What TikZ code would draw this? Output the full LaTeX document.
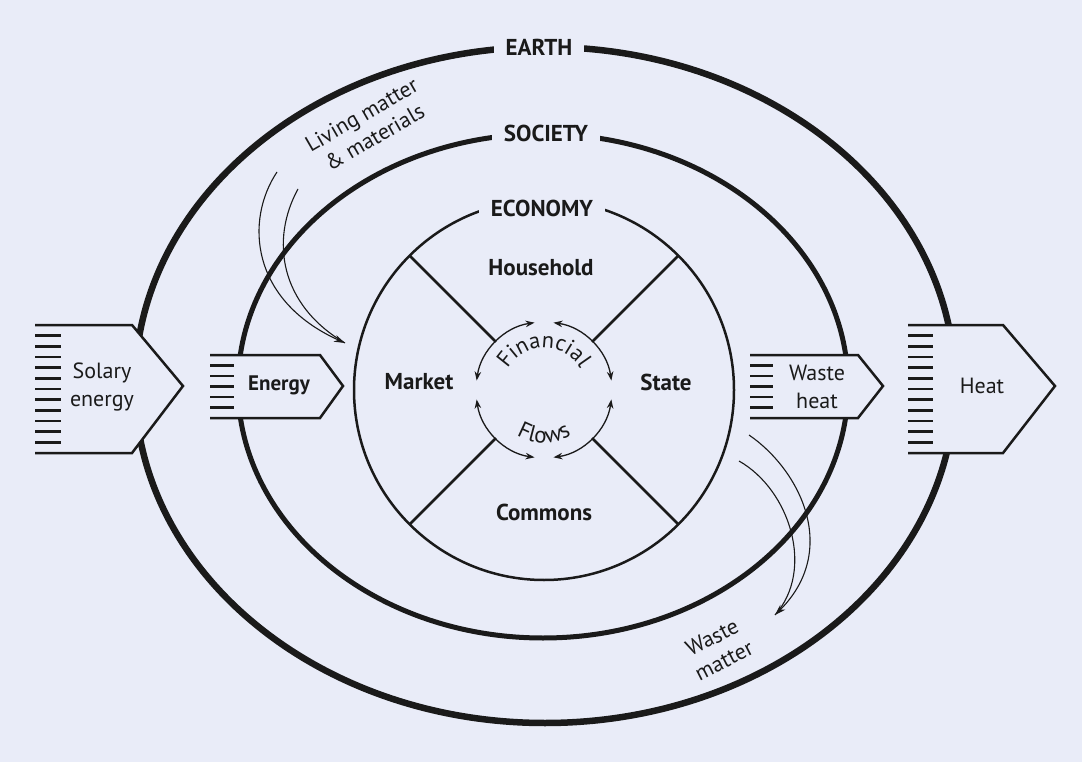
\documentclass[tikz,border=0pt]{standalone}
\usepackage{fontspec}
\setmainfont{PT Sans}
\usetikzlibrary{arrows.meta,decorations.text}
\definecolor{bg}{RGB}{233,236,248}
\definecolor{ink}{RGB}{26,26,26}
\tikzset{
  ring/.style={draw=ink, line width=#1},
  lbl/.style={fill=bg, text=ink, inner xsep=12pt, inner ysep=5pt, font=\bfseries\fontsize{23}{27}\selectfont},
  sector/.style={text=ink, font=\bfseries\fontsize{23}{27}\selectfont},
  flowtxt/.style={text=ink, align=center, font=\fontsize{22}{28}\selectfont},
  slanted/.style={text=ink, align=center, font=\fontsize{22}{26}\selectfont},
  shaft/.style={fill=bg, draw=ink, line width=2.5pt, line join=miter},
  stripe/.style={draw=ink, line width=2.6pt},
  spoke/.style={draw=ink, line width=2.5pt},
  cyc/.style={draw=ink, line width=1.3pt, {Stealth[length=9pt,width=6.5pt]}-{Stealth[length=9pt,width=6.5pt]}},
  matflow/.style={draw=ink, line width=1.1pt},
}
\begin{document}
\begin{tikzpicture}[x=1pt,y=-1pt]
\fill[bg] (0,0) rectangle (1082,762);
\useasboundingbox (0,0) rectangle (1082,762);

% rings
\draw[ring=6.5pt] (545,385) ellipse [x radius=410pt, y radius=338pt];
\draw[ring=5pt] (543,386) ellipse [x radius=305pt, y radius=252pt];
\coordinate (c) at (544,390);
\draw[ring=2.5pt] (c) circle [radius=190pt];

% spokes
\foreach \a in {45,135,225,315}
  \draw[spoke] (c) ++(\a:68pt) -- ++(\a:122pt);

% financial cycle
\foreach \s/\e in {98/172, 82/8, 188/262, 352/278}
  \draw[cyc] (c) ++(\s:68pt) arc[start angle=\s, end angle=\e, radius=68pt];
\path[decorate, decoration={text along path, text align=center,
   text={|\fontsize{22.5}{22.5}\selectfont\color{ink}|Financial}}]
   (c) ++(178:42pt) arc[start angle=178, end angle=2, radius=42pt];
\path[decorate, decoration={text along path, text align=center,
   text={|\fontsize{23}{23}\selectfont\color{ink}|Flows}}]
   (c) ++(200:53pt) arc[start angle=200, end angle=340, radius=53pt];

% ring labels
\node[lbl] (earth) at (539,47) {EARTH};
\node[lbl] (society) at (546,133) {SOCIETY};
\node[lbl] (economy) at (542,208) {ECONOMY};

% sectors
\node[sector] (household) at (541,268) {Household};
\node[sector] (market) at (419,382) {Market};
\node[sector] (state) at (666,382) {State};
\node[sector] (commons) at (544,512) {Commons};

% solar energy arrow
\filldraw[shaft] (35,325) -- (132,325) -- (183,386) -- (132,453) -- (35,453);
\foreach \i in {1,...,11}
  \draw[stripe] (35,{325+\i*128/12}) -- (61,{325+\i*128/12});
\node[flowtxt] (solar) at (102,387) {Solary\\energy};

% energy arrow
\filldraw[shaft] (210,355) -- (320,355) -- (343,386) -- (320,418) -- (210,418);
\foreach \i in {1,...,5}
  \draw[stripe] (210,{355+\i*63/6}) -- (234,{355+\i*63/6});
\node[flowtxt, font=\bfseries\fontsize{21}{27}\selectfont] (energy) at (279,385) {Energy};

% waste heat arrow
\filldraw[shaft] (750,355) -- (858,355) -- (883,386) -- (858,418) -- (750,418);
\foreach \i in {1,...,5}
  \draw[stripe] (750,{355+\i*63/6}) -- (773,{355+\i*63/6});
\node[flowtxt] (wasteheat) at (817,387) {Waste\\heat};

% heat arrow
\filldraw[shaft] (908,325) -- (1003,325) -- (1055,386) -- (1003,453) -- (908,453);
\foreach \i in {1,...,11}
  \draw[stripe] (908,{325+\i*128/12}) -- (933,{325+\i*128/12});
\node[flowtxt] (heat) at (982,386) {Heat};

% living matter & materials inflow
\coordinate (lmA) at (277,172);
\coordinate (lmB) at (298,189);
\coordinate (lmT) at (345,343);
\draw[matflow, -{Stealth[length=11pt,width=7pt]}] (lmA) .. controls (245,220) and (250,300) .. (lmT);
\draw[matflow] (lmB) .. controls (270,240) and (280,305) .. (lmT);
\node[slanted, rotate=30] (living) at (368,126) {Living matter\\\& materials};

% waste matter outflow
\coordinate (wmA) at (749,435);
\coordinate (wmB) at (739,461);
\coordinate (wmT) at (775,615);
\draw[matflow, -{Stealth[length=11pt,width=7pt]}] (wmA) .. controls (800,470) and (840,550) .. (wmT);
\draw[matflow] (wmB) .. controls (790,490) and (815,570) .. (wmT);
\node[slanted, rotate=27] (wastematter) at (718,649) {Waste\\matter};
\end{tikzpicture}
\end{document}
